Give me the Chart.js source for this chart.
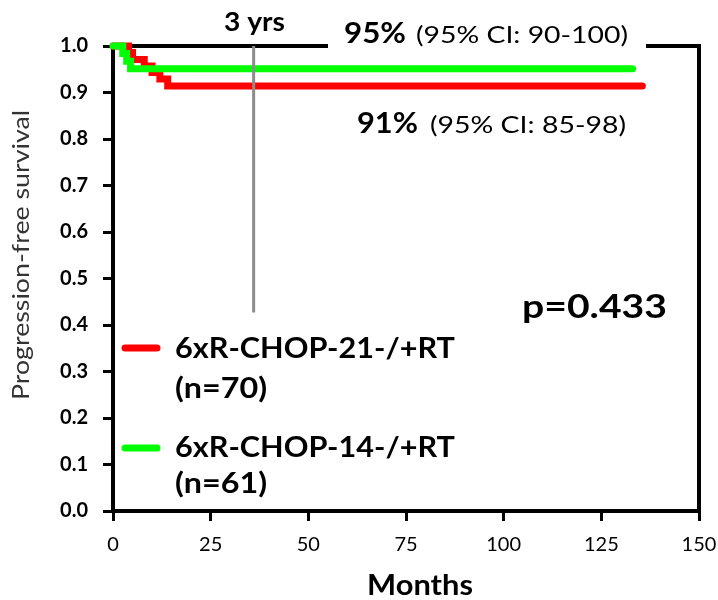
<!DOCTYPE html>
<html>
<head>
<meta charset="utf-8">
<script src="https://cdn.jsdelivr.net/npm/chart.js@4.4.0/dist/chart.umd.min.js"></script>
<style>
  html, body { margin: 0; padding: 0; background: #fff; }
  #wrap { width: 718px; height: 600px; }
</style>
</head>
<body>
<div id="wrap"><canvas id="pfs"></canvas></div>
<script>
// ======================
// Datos (Kaplan-Meier)
// ======================
const months21 = [0, 4, 5, 8, 10, 12, 14, 135.5];
const surv21 = [1, 0.986, 0.971, 0.957, 0.943, 0.929, 0.914, 0.914];

const months14 = [0, 2.5, 3.5, 4.5, 133];
const surv14 = [1, 0.984, 0.967, 0.951, 0.951];

// linea de 3 años
const markMonths = [36, 36];
const markSurv = [0.427, 1.0];

const xTicks = [0, 25, 50, 75, 100, 125, 150];
const yTicks = [0, 0.1, 0.2, 0.3, 0.4, 0.5, 0.6, 0.7, 0.8, 0.9, 1.0];

const labels = {
  arm21: ["6xR-CHOP-21-/+RT", "(n=70)"],
  arm14: ["6xR-CHOP-14-/+RT", "(n=61)"],
  est14: ["95%", "(95% CI: 90-100)"],
  est21: ["91%", "(95% CI: 85-98)"],
  pval: "p=0.433",
  mark: "3 yrs",
  xTitle: "Months",
  yTitle: "Progression-free survival"
};

const RED = "#ff0000";
const GREEN = "#00ff00";
const FONT = "Lato, 'Open Sans', sans-serif";

const toPts = (xs, ys) => xs.map((x, i) => ({ x, y: ys[i] }));

// texto ajustado a un ancho dado (la figura original viene estirada)
function drawText(ctx, text, x, y, font, w, color) {
  ctx.save();
  ctx.font = font;
  ctx.fillStyle = color || "#000";
  ctx.textBaseline = "alphabetic";
  ctx.textAlign = "left";
  const sx = w ? w / ctx.measureText(text).width : 1;
  ctx.translate(x, y);
  ctx.scale(sx, 1);
  ctx.fillText(text, 0, 0);
  ctx.restore();
}

// ======================
// Marco y textos
// ======================
const framePlugin = {
  id: "frame",
  beforeDatasetsDraw(chart) {
    const { ctx, chartArea: a } = chart;
    ctx.save();
    ctx.strokeStyle = "#000";
    ctx.lineWidth = 4;
    ctx.lineCap = "square";
    ctx.beginPath();
    ctx.moveTo(a.left, a.top);
    ctx.lineTo(a.right, a.top);
    ctx.lineTo(a.right, a.bottom);
    ctx.stroke();
    // hueco blanco detras del 95%
    ctx.fillStyle = "#fff";
    ctx.fillRect(328, a.top - 8, 318, 14);
    ctx.restore();
  },
  afterDraw(chart) {
    const { ctx } = chart;
    const B = "bold ";

    drawText(ctx, labels.mark, 224, 31, B + "26px " + FONT, 61);

    drawText(ctx, labels.est14[0], 344, 43, B + "28px " + FONT, 62);
    drawText(ctx, labels.est14[1], 416, 43, "23px " + FONT, 212);
    drawText(ctx, labels.est21[0], 357, 133, B + "28px " + FONT, 61);
    drawText(ctx, labels.est21[1], 430, 133, "23px " + FONT, 196);

    drawText(ctx, labels.pval, 522, 318, B + "32px " + FONT, 145);

    // leyenda
    ctx.save();
    ctx.lineWidth = 7;
    ctx.lineCap = "round";
    [[RED, 348], [GREEN, 448]].forEach(([c, y]) => {
      ctx.strokeStyle = c;
      ctx.beginPath();
      ctx.moveTo(125, y);
      ctx.lineTo(157, y);
      ctx.stroke();
    });
    ctx.restore();
    drawText(ctx, labels.arm21[0], 175, 358, B + "28px " + FONT, 280);
    drawText(ctx, labels.arm21[1], 175, 398, B + "28px " + FONT, 92);
    drawText(ctx, labels.arm14[0], 175, 457, B + "28px " + FONT, 280);
    drawText(ctx, labels.arm14[1], 175, 493, B + "28px " + FONT, 92);

    drawText(ctx, labels.xTitle, 367, 595, B + "29px " + FONT, 106);

    ctx.save();
    ctx.translate(29, 400);
    ctx.rotate(-Math.PI / 2);
    drawText(ctx, labels.yTitle, 0, 0, "24px " + FONT, 290, "#333");
    ctx.restore();
  }
};

// ======================
// Grafico
// ======================
new Chart(document.getElementById("pfs"), {
  type: "scatter",
  data: {
    datasets: [
      {
        data: toPts(markMonths, markSurv),
        showLine: true,
        borderColor: "#8c8c8c",
        borderWidth: 3,
        pointRadius: 0,
        clip: false
      },
      {
        label: labels.arm14.join(" "),
        data: toPts(months14, surv14),
        showLine: true,
        stepped: true,
        borderColor: GREEN,
        borderWidth: 7,
        borderCapStyle: "round",
        pointRadius: 0,
        clip: false
      },
      {
        label: labels.arm21.join(" "),
        data: toPts(months21, surv21),
        showLine: true,
        stepped: true,
        borderColor: RED,
        borderWidth: 7,
        borderCapStyle: "round",
        pointRadius: 0,
        clip: false
      }
    ]
  },
  options: {
    responsive: true,
    maintainAspectRatio: false,
    animation: false,
    devicePixelRatio: 1,
    layout: { padding: { top: 46, right: 19, left: 0, bottom: 0 } },
    plugins: { legend: { display: false }, tooltip: { enabled: false } },
    scales: {
      x: {
        type: "linear",
        min: 0,
        max: 150,
        afterFit: (s) => { s.height = 89; s.paddingLeft = 0; s.paddingRight = 0; },
        afterBuildTicks: (s) => { s.ticks = xTicks.map(v => ({ value: v })); },
        grid: { display: true, drawOnChartArea: false, drawTicks: true, tickLength: 10, color: "#000", lineWidth: 3 },
        border: { display: true, color: "#000", width: 4 },
        ticks: { color: "#000", padding: 12, font: { family: FONT, size: 20 } }
      },
      y: {
        min: 0,
        max: 1,
        afterFit: (s) => { s.width = 113; },
        afterBuildTicks: (s) => { s.ticks = yTicks.map(v => ({ value: v })); },
        grid: { display: true, drawOnChartArea: false, drawTicks: true, tickLength: 10, color: "#000", lineWidth: 3 },
        border: { display: true, color: "#000", width: 4 },
        ticks: {
          color: "#000",
          padding: 15,
          font: { family: FONT, size: 20, weight: "bold" },
          callback: (v) => v.toFixed(1)
        }
      }
    }
  },
  plugins: [framePlugin]
});
</script>
</body>
</html>
